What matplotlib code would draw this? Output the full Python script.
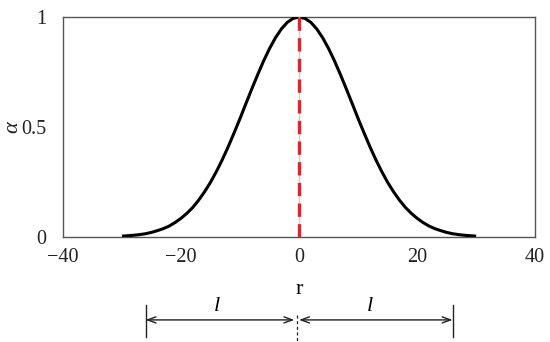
import matplotlib.pyplot as plt

plt.rcParams['font.family'] = ['Liberation Serif', 'DejaVu Serif']

# data
r = list(range(-30, 31))
alpha = [0.004, 0.006, 0.008, 0.011, 0.015, 0.021, 0.029, 0.038, 0.050, 0.066,
         0.085, 0.108, 0.135, 0.168, 0.206, 0.249, 0.298, 0.352, 0.411, 0.474,
         0.539, 0.607, 0.674, 0.739, 0.801, 0.857, 0.906, 0.946, 0.976, 0.994,
         1.000,
         0.994, 0.976, 0.946, 0.906, 0.857, 0.801, 0.739, 0.674, 0.607, 0.539,
         0.474, 0.411, 0.352, 0.298, 0.249, 0.206, 0.168, 0.135, 0.108, 0.085,
         0.066, 0.050, 0.038, 0.029, 0.021, 0.015, 0.011, 0.008, 0.006, 0.004]
x_ticks = [-40, -20, 0, 20, 40]
y_ticks = [0, 0.5, 1]
y_ticklabels = ['0', '0.5', '1']
l_half = 26  # extent of the l dimension marks

fig = plt.figure(figsize=(5.5, 3.42), dpi=100)
ax = fig.add_axes([0.1145, 0.307, 0.8585, 0.643])

ax.plot(r, alpha, color='black', lw=2.2, solid_capstyle='butt', zorder=3)
# centre line: faint grey under red dashes
ax.plot([0, 0], [0, 1], color='#cccccc', lw=1.0, zorder=4)
ax.plot([0, 0], [0, 1], color='#e8202a', lw=2.4, dashes=(4, 2.2), zorder=5)

ax.set_xlim(-40, 40)
ax.set_ylim(0, 1)
ax.set_xticks(x_ticks)
ax.set_xticklabels([str(v).replace('-', '\u2212') for v in x_ticks])
ax.set_yticks(y_ticks)
ax.set_yticklabels(y_ticklabels)
ax.tick_params(length=0, labelsize=14.5, colors='#222222')
ax.tick_params(axis='y', pad=12)
ax.tick_params(axis='x', pad=8)
for s in ax.spines.values():
    s.set_color('#555555')
    s.set_linewidth(1.0)

# y label placed by hand so it is not clipped
fig.text(13 / 550, 1 - 127 / 342, '\u03b1', rotation=90, fontsize=16,
         fontstyle='italic', ha='center', va='center', color='#222222')

# dimension marks below the axis
tr = ax.get_xaxis_transform()
ax.text(0, -0.24, 'r', transform=tr, ha='center', va='center', fontsize=16)
for xv in (-l_half, l_half):
    ax.plot([xv, xv], [-0.309, -0.4545], transform=tr, color='#222222',
            lw=1.0, clip_on=False)
ax.plot([-0.4, -0.4], [-0.355, -0.48], transform=tr, color='#222222',
        lw=0.9, ls=(0, (2.5, 2)), clip_on=False)
arrow = dict(arrowstyle='<->,head_length=0.6,head_width=0.22',
             color='#222222', lw=1.0, shrinkA=0, shrinkB=0)
ax.annotate('', xy=(-l_half, -0.377), xytext=(-0.8, -0.377), xycoords=tr,
            textcoords=tr, arrowprops=arrow, annotation_clip=False)
ax.annotate('', xy=(0.0, -0.377), xytext=(l_half, -0.377), xycoords=tr,
            textcoords=tr, arrowprops=arrow, annotation_clip=False)
ax.text(-14, -0.314, 'l', transform=tr, ha='center', va='center',
        fontsize=16, fontstyle='italic')
ax.text(12, -0.314, 'l', transform=tr, ha='center', va='center',
        fontsize=16, fontstyle='italic')

fig.savefig('out.png', dpi=100)
